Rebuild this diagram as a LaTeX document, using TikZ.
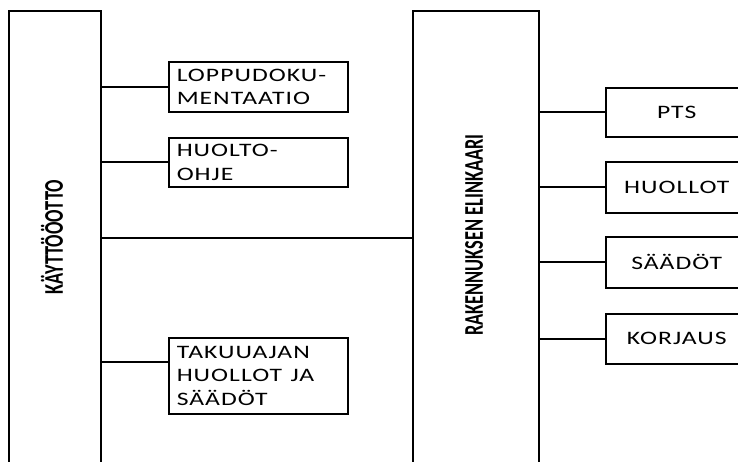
\documentclass[tikz,border=0pt]{standalone}
\usepackage{fontspec}
\usepackage{graphicx}
\setmainfont{Carlito}
\newfontfamily\boxfont[LetterSpace=4]{Carlito}
\newfontfamily\rotfont{Carlito}
\newcommand\widetxt[1]{\scalebox{1.35}[1]{#1}}
\newcommand\narrowtxt[1]{\scalebox{0.68}[1]{#1}}
\tikzset{
  tallbox/.style={draw, line width=2.2pt, rectangle, anchor=north west, inner sep=0pt},
  leftbox/.style={draw, line width=1.5pt, rectangle, anchor=north west, minimum width=179pt,
     text width=163pt, inner xsep=8pt, inner ysep=0pt, align=left,
     font=\boxfont\fontsize{19}{23.5}\selectfont},
  rightbox/.style={draw, line width=1.5pt, rectangle, anchor=north west, minimum width=142pt,
     inner sep=0pt, align=center, font=\boxfont\fontsize{19}{23.5}\selectfont},
  rotlabel/.style={rotate=90, inner sep=0pt, font=\rotfont\bfseries\fontsize{27}{27}\selectfont},
  conn/.style={line width=2pt}
}
\begin{document}
\begin{tikzpicture}[x=1pt, y=-1pt]
\useasboundingbox (0,0) rectangle (738,461);
\clip (0,0) rectangle (738,461);
% tall boxes
\node[tallbox, minimum width=92pt, minimum height=454pt] (kay) at (8,10) {};
\node[tallbox, minimum width=126pt, minimum height=454pt] (rak) at (412,10) {};
\node[rotlabel] (kaylbl) at (52,237) {\narrowtxt{KÄYTTÖÖOTTO}};
\node[rotlabel] (raklbl) at (474,235) {\narrowtxt{RAKENNUKSEN ELINKAARI}};
% left boxes
\node[leftbox, minimum height=50pt] (lop) at (168,61) {\widetxt{LOPPUDOKU-}\\\widetxt{MENTAATIO}};
\node[leftbox, minimum height=49pt] (huo) at (168,137) {\widetxt{HUOLTO-}\\\widetxt{OHJE}};
\node[leftbox, minimum height=76pt] (tak) at (168,337) {\widetxt{TAKUUAJAN}\\\widetxt{HUOLLOT JA}\\\widetxt{SÄÄDÖT}};
\coordinate (takc) at ([yshift=-25pt]tak.north west);
% right boxes
\node[rightbox, minimum height=49pt] (pts) at (605,87) {\widetxt{PTS}};
\node[rightbox, minimum height=51pt] (hll) at (605,161) {\widetxt{HUOLLOT}};
\node[rightbox, minimum height=51pt] (saa) at (605,236) {\widetxt{SÄÄDÖT}};
\node[rightbox, minimum height=50pt] (kor) at (605,313) {\widetxt{KORJAUS}};
% connectors
\draw[conn] (kay.east |- lop.west) -- (lop.west);
\draw[conn] (kay.east |- huo.west) -- (huo.west);
\draw[conn] (kay.east |- takc) -- (takc);
\draw[conn] (kay.east) -- (rak.west);
\draw[conn] (rak.east |- pts.west) -- (pts.west);
\draw[conn] (rak.east |- hll.west) -- (hll.west);
\draw[conn] (rak.east |- saa.west) -- (saa.west);
\draw[conn] (rak.east |- kor.west) -- (kor.west);
\end{tikzpicture}
\end{document}
